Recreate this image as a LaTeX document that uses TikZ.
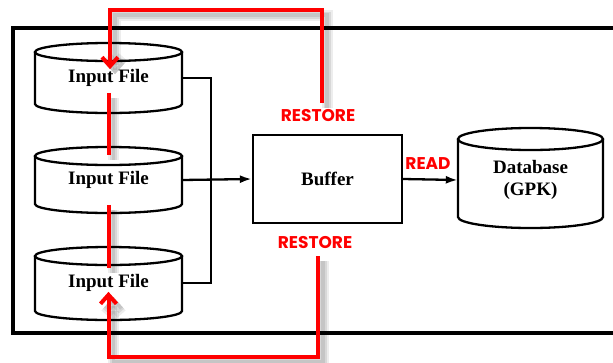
\documentclass[tikz,border=0pt]{standalone}
\usepackage{fontspec}
\setmainfont{Liberation Serif}
\newfontfamily\lblfont{Poppins}
\usetikzlibrary{arrows.meta}
\newcommand\cylshape[5]{%
  \draw[blk] (#1,#2) ellipse [x radius=#4, y radius=#5];
  \draw[blk] (#1-#4,#2) -- (#1-#4,#3) arc[start angle=180, end angle=0, x radius=#4, y radius=#5] -- (#1+#4,#2);
}
\begin{document}
\begin{tikzpicture}[x=1pt,y=-1pt,
  blk/.style={line width=2.3pt, black},
  txt/.style={font=\fontsize{19}{22}\selectfont\bfseries, inner sep=0pt, align=center},
  redl/.style={line width=4pt, red,
    preaction={draw=black, line width=11pt, opacity=0.07, transform canvas={shift={(5pt,-5pt)}}},
    preaction={draw=black, line width=7pt, opacity=0.09, transform canvas={shift={(5pt,-5pt)}}},
    preaction={draw=black, line width=3.5pt, opacity=0.09, transform canvas={shift={(5pt,-5pt)}}}},
  lbl/.style={font=\lblfont\fontsize{17}{19}\selectfont\bfseries, text=red, inner sep=1pt},
  blkarrow/.style={-{Latex[length=12pt,width=8pt]}},
  redarrow/.style={-{Straight Barb[length=9pt,width=16pt]}}
]
\useasboundingbox (0,0) rectangle (613,362);
\clip (0,0) rectangle (613,362);
% frame
\draw[line width=3.5pt] (625,28) -- (13,28) -- (13,333) -- (625,333);
% cylinders
\cylshape{108.5}{52}{104}{73.5}{9}
\cylshape{108.5}{156}{204}{73.5}{9}
\cylshape{108.5}{256}{311}{73.5}{9}
\cylshape{530.5}{139}{217}{72.5}{11}
\node[txt, minimum width=147pt] (c1) at (108.5,78) {Input File};
\node[txt, minimum width=147pt] (c2) at (108.5,180) {Input File};
\node[txt, minimum width=147pt] (c3) at (108.5,283) {Input File};
\node[txt, minimum width=145pt] (db) at (530.5,180) {Database\\(GPK)};
\node[txt, draw, line width=2.3pt, minimum width=149pt, minimum height=88pt] (buf) at (327.5,179) {Buffer};
% black connectors
\draw[blk] (c1.east) -- ++(29,0) |- (c3.east);
\draw[blk, blkarrow] (c2.east) -- (buf.west);
\draw[blk, blkarrow] (buf.east) -- (db.west);
% red labels
\node[lbl] (rt) at (318,116) {RESTORE};
\node[lbl] (rb) at (315,243) {RESTORE};
\node[lbl] (rd) at (428,164) {READ};
\coordinate (ty) at (0,10);
\coordinate (by) at (0,357);
\draw[redl, redarrow] ([shift={(4pt,6pt)}]rt.north) -- ([xshift=4pt]rt.north |- ty) -- ([xshift=1.5pt]c1.north |- ty) -- ([xshift=1.5pt]c1.north);
\draw[redl, redarrow] ([shift={(3pt,-6pt)}]rb.south) -- ([xshift=3pt]rb.south |- by) -- (c3.south |- by) -- (c3.south);
\draw[redl] ([yshift=-6pt]c1.south) -- ([yshift=16pt]c2.north);
\draw[redl] ([yshift=-16pt]c2.south) -- ([yshift=6pt]c3.north);
\end{tikzpicture}
\end{document}
